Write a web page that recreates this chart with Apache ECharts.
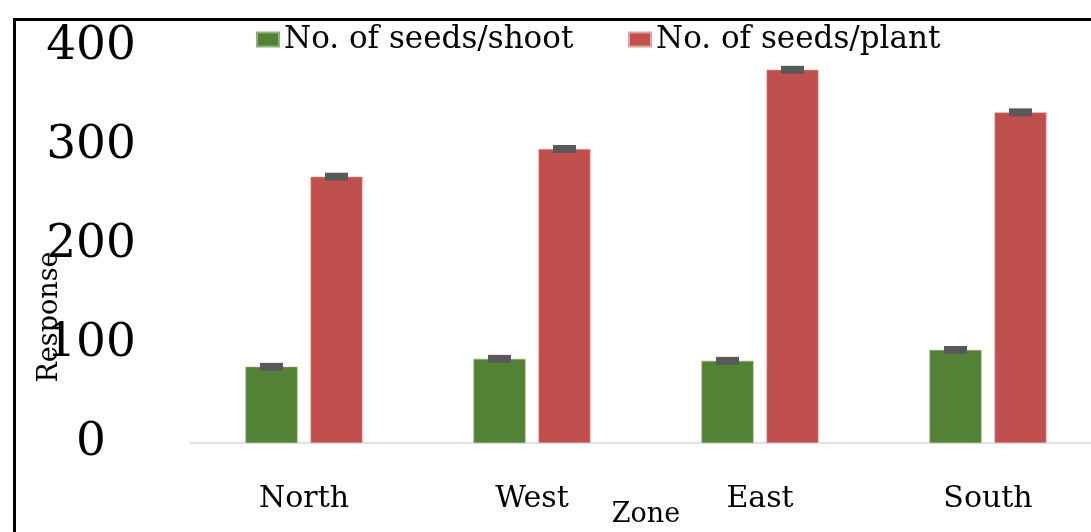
<!DOCTYPE html>
<html>
<head>
<meta charset="utf-8">
<script src="https://cdn.jsdelivr.net/npm/echarts@6/dist/echarts.min.js"></script>
<style>
  html, body { margin: 0; padding: 0; background: #ffffff; }
  #chart { width: 1091px; height: 532px; }
</style>
</head>
<body>
<div id="chart"></div>
<script>
// Zones along the x axis
const zones = ['North', 'West', 'East', 'South'];
// Mean seed counts per zone
const seedsPerShoot = [77, 85, 83, 94];
const seedsPerPlant = [269, 297, 377, 334];
// Standard error for each mean
const errShoot = [4, 4, 4, 4];
const errPlant = [4, 4, 4, 4];
// Y axis ticks
const yTicks = [0, 100, 200, 300, 400];

const seriesNames = ['No. of seeds/shoot', 'No. of seeds/plant'];
const colors = ['#538135', '#c0504d'];
const FONT = 'DejaVu Serif';
const BAR_W = 52;
const BAR_GAP = 13;

const chart = echarts.init(document.getElementById('chart'), null, { renderer: 'canvas' });

// error cap data: [category index, mean, error, series index]
const errData = [];
zones.forEach((z, i) => {
  errData.push([i, seedsPerShoot[i], errShoot[i], 0]);
  errData.push([i, seedsPerPlant[i], errPlant[i], 1]);
});

function renderErr(params, api) {
  const idx = api.value(0);
  const mean = api.value(1);
  const err = api.value(2);
  const s = api.value(3);
  const offset = (s === 0 ? -1 : 1) * (BAR_W + BAR_GAP) / 2;
  const top = api.coord([idx, mean + err]);
  const bot = api.coord([idx, mean - err]);
  const w = 23;
  return {
    type: 'rect',
    shape: { x: top[0] + offset - w / 2, y: top[1], width: w, height: bot[1] - top[1] },
    style: { fill: '#595959' }
  };
}

const option = {
  animation: false,
  backgroundColor: '#ffffff',
  textStyle: { fontFamily: FONT },
  legend: [
    {
      data: [seriesNames[0]], left: 251, top: 19,
      icon: 'rect', itemWidth: 22, itemHeight: 14,
      textStyle: { fontFamily: FONT, fontSize: 31, color: '#000000' }
    },
    {
      data: [seriesNames[1]], left: 623, top: 19,
      icon: 'rect', itemWidth: 22, itemHeight: 14,
      textStyle: { fontFamily: FONT, fontSize: 31, color: '#000000' }
    }
  ],
  grid: {
    left: 190, top: 47, width: 912, height: 396,
    containLabel: false, outerBoundsMode: 'none'
  },
  xAxis: {
    type: 'category',
    data: zones,
    axisLine: { lineStyle: { color: '#d9d9d9', width: 1.5 } },
    axisTick: { show: false },
    axisLabel: { fontFamily: FONT, fontSize: 30, color: '#000000', margin: 41 },
    name: 'Zone',
    nameLocation: 'middle',
    nameGap: 58,
    nameMoveOverlap: false,
    nameTextStyle: { fontFamily: FONT, fontSize: 27, color: '#000000' }
  },
  yAxis: {
    type: 'value',
    min: yTicks[0],
    max: yTicks[yTicks.length - 1],
    interval: 100,
    axisLine: { show: false },
    axisTick: { show: false },
    splitLine: { show: false },
    axisLabel: {
      fontFamily: FONT, fontSize: 47, color: '#000000',
      align: 'center', margin: 99, padding: [10, 0, 0, 0]
    }
  },
  graphic: [
    {
      type: 'rect',
      left: 12, top: 17,
      shape: { width: 1200, height: 700 },
      style: { fill: 'none', stroke: '#000000', lineWidth: 3 },
      z: 100
    },
    {
      type: 'text',
      x: 50, y: 317,
      rotation: Math.PI / 2,
      style: {
        text: 'Response', fontFamily: FONT, fontSize: 27, fill: '#000000',
        align: 'center', verticalAlign: 'middle'
      },
      z: 100
    }
  ],
  series: [
    {
      name: seriesNames[0], type: 'bar', data: seedsPerShoot,
      barWidth: BAR_W, barGap: (BAR_GAP / BAR_W * 100) + '%',
      itemStyle: { color: colors[0], borderColor: '#8fae7a', borderWidth: 0.6 }
    },
    {
      name: seriesNames[1], type: 'bar', data: seedsPerPlant,
      barWidth: BAR_W,
      itemStyle: { color: colors[1], borderColor: '#e0a09e', borderWidth: 0.6 }
    },
    {
      type: 'custom', renderItem: renderErr, data: errData,
      encode: { x: 0, y: 1 }, z: 10, silent: true
    }
  ]
};

chart.setOption(option);
</script>
</body>
</html>
